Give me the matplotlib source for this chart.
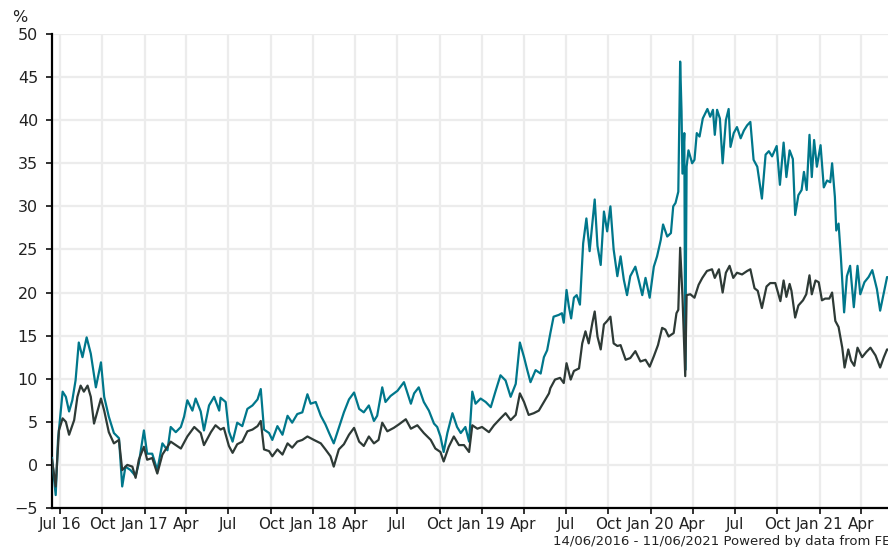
import pandas as pd
import matplotlib
matplotlib.use('Agg')
import matplotlib.pyplot as plt

# fund (teal) - date, % growth
teal_dates = [
    '2016-06-14', '2016-06-22', '2016-06-27', '2016-07-03', '2016-07-07', '2016-07-14', '2016-07-21',
    '2016-07-28', '2016-08-04', '2016-08-11', '2016-08-19', '2016-08-28', '2016-09-06', '2016-09-17',
    '2016-09-28', '2016-10-05', '2016-10-15', '2016-10-26', '2016-11-06', '2016-11-13', '2016-11-20',
    '2016-12-01', '2016-12-12', '2016-12-19', '2016-12-30', '2017-01-06', '2017-01-17', '2017-01-28',
    '2017-02-08', '2017-02-19', '2017-02-26', '2017-03-09', '2017-03-20', '2017-03-27', '2017-04-03',
    '2017-04-14', '2017-04-21', '2017-05-02', '2017-05-09', '2017-05-20', '2017-05-31', '2017-06-11',
    '2017-06-14', '2017-06-25', '2017-07-02', '2017-07-10', '2017-07-20', '2017-07-31', '2017-08-11',
    '2017-08-22', '2017-09-02', '2017-09-09', '2017-09-16', '2017-09-27', '2017-10-04', '2017-10-15',
    '2017-10-26', '2017-11-06', '2017-11-16', '2017-11-27', '2017-12-08', '2017-12-19', '2017-12-26',
    '2018-01-06', '2018-01-17', '2018-01-27', '2018-02-04', '2018-02-14', '2018-02-25', '2018-03-08',
    '2018-03-19', '2018-03-30', '2018-04-10', '2018-04-20', '2018-05-01', '2018-05-12', '2018-05-19',
    '2018-05-30', '2018-06-06', '2018-06-17', '2018-07-02', '2018-07-16', '2018-07-31', '2018-08-07',
    '2018-08-17', '2018-08-28', '2018-09-08', '2018-09-19', '2018-09-26', '2018-10-03', '2018-10-10',
    '2018-10-18', '2018-10-29', '2018-11-08', '2018-11-16', '2018-11-26', '2018-12-04', '2018-12-11',
    '2018-12-18', '2018-12-29', '2019-01-09', '2019-01-20', '2019-01-30', '2019-02-10', '2019-02-21',
    '2019-03-04', '2019-03-15', '2019-03-24', '2019-04-02', '2019-04-09', '2019-04-16', '2019-04-27',
    '2019-05-08', '2019-05-15', '2019-05-22', '2019-05-29', '2019-06-05', '2019-06-16', '2019-06-23',
    '2019-06-27', '2019-07-03', '2019-07-08', '2019-07-13', '2019-07-19', '2019-07-25', '2019-08-01',
    '2019-08-08', '2019-08-15', '2019-08-22', '2019-08-28', '2019-09-02', '2019-09-08', '2019-09-15',
    '2019-09-22', '2019-09-29', '2019-10-06', '2019-10-13', '2019-10-21', '2019-10-28', '2019-11-04',
    '2019-11-11', '2019-11-18', '2019-11-29', '2019-12-06', '2019-12-14', '2019-12-21', '2019-12-30',
    '2020-01-08', '2020-01-15', '2020-01-23', '2020-01-28', '2020-02-06', '2020-02-14', '2020-02-19',
    '2020-02-24', '2020-03-01', '2020-03-05', '2020-03-08', '2020-03-10', '2020-03-14', '2020-03-16',
    '2020-03-19', '2020-03-23', '2020-03-31', '2020-04-05', '2020-04-10', '2020-04-16', '2020-04-23',
    '2020-05-03', '2020-05-09', '2020-05-15', '2020-05-19', '2020-05-24', '2020-05-30', '2020-06-05',
    '2020-06-12', '2020-06-18', '2020-06-22', '2020-06-29', '2020-07-06', '2020-07-14', '2020-07-21',
    '2020-07-28', '2020-08-04', '2020-08-11', '2020-08-19', '2020-08-29', '2020-09-06', '2020-09-13',
    '2020-09-20', '2020-09-30', '2020-10-07', '2020-10-15', '2020-10-21', '2020-10-28', '2020-11-04',
    '2020-11-09', '2020-11-16', '2020-11-23', '2020-11-28', '2020-12-04', '2020-12-10', '2020-12-15',
    '2020-12-20', '2020-12-26', '2021-01-03', '2021-01-10', '2021-01-17', '2021-01-24', '2021-01-28',
    '2021-02-03', '2021-02-06', '2021-02-11', '2021-02-16', '2021-02-23', '2021-03-01', '2021-03-08',
    '2021-03-16', '2021-03-24', '2021-03-30', '2021-04-08', '2021-04-17', '2021-04-25', '2021-05-05',
    '2021-05-12', '2021-05-20', '2021-05-27', '2021-06-11',
]
teal_vals = [
    0.8, -3.5, 2.9, 6.3, 8.5, 7.9, 6.2,
    7.5, 9.8, 14.2, 12.5, 14.8, 12.9, 9.0,
    11.9, 7.9, 5.6, 3.7, 3.1, -2.5, -0.2,
    -0.6, -1.3, 0.2, 4.0, 1.3, 1.3, -0.6,
    2.5, 1.7, 4.4, 3.8, 4.4, 5.6, 7.5,
    6.3, 7.7, 6.2, 4.0, 6.9, 7.9, 6.3,
    7.8, 7.3, 3.9, 2.7, 4.9, 4.5, 6.5,
    6.9, 7.6, 8.8, 4.1, 3.7, 2.9, 4.5,
    3.5, 5.7, 4.9, 5.9, 6.1, 8.2, 7.1,
    7.3, 5.7, 4.7, 3.7, 2.5, 4.3, 6.1,
    7.6, 8.4, 6.5, 6.1, 6.9, 5.1, 5.7,
    9.0, 7.3, 8.0, 8.6, 9.6, 7.1, 8.3,
    9.0, 7.3, 6.3, 4.8, 4.4, 3.3, 1.5,
    3.7, 6.0, 4.4, 3.7, 4.4, 2.7, 8.5,
    7.1, 7.7, 7.3, 6.7, 8.5, 10.4, 9.8,
    7.9, 9.4, 14.2, 12.5, 11.0, 9.6, 11.0,
    10.6, 12.5, 13.3, 15.3, 17.2, 17.4, 17.6,
    16.5, 20.3, 18.4, 17.0, 19.4, 19.7, 18.6,
    25.7, 28.6, 24.8, 28.1, 30.8, 25.4, 23.2,
    29.4, 27.1, 30.0, 25.0, 21.9, 24.2, 21.5,
    19.7, 21.9, 23.0, 21.5, 19.7, 21.7, 19.4,
    23.0, 24.2, 26.1, 27.9, 26.5, 26.9, 30.0,
    30.4, 31.7, 46.8, 41.0, 33.8, 38.5, 11.0,
    34.6, 36.5, 35.0, 35.4, 38.5, 38.1, 40.2,
    41.3, 40.4, 41.2, 38.3, 41.2, 40.2, 35.0,
    40.0, 41.3, 36.9, 38.5, 39.2, 37.9, 38.8,
    39.4, 39.8, 35.4, 34.6, 30.9, 36.0, 36.4,
    35.8, 37.0, 32.5, 37.4, 33.4, 36.5, 35.5,
    29.0, 31.3, 31.9, 34.0, 31.9, 38.3, 33.4,
    37.7, 34.6, 37.1, 32.2, 33.0, 32.8, 35.0,
    31.1, 27.2, 28.0, 24.1, 17.7, 21.9, 23.1,
    18.3, 23.1, 19.8, 21.2, 21.8, 22.6, 20.4,
    17.9, 20.0, 21.8, 21.5,
]

# sector average (dark)
dark_dates = [
    '2016-06-14', '2016-06-22', '2016-06-29', '2016-07-07', '2016-07-14', '2016-07-21', '2016-08-01',
    '2016-08-08', '2016-08-15', '2016-08-22', '2016-08-30', '2016-09-06', '2016-09-13', '2016-09-28',
    '2016-10-05', '2016-10-15', '2016-10-26', '2016-11-06', '2016-11-13', '2016-11-24', '2016-12-05',
    '2016-12-12', '2016-12-19', '2016-12-30', '2017-01-06', '2017-01-17', '2017-01-28', '2017-02-08',
    '2017-02-26', '2017-03-09', '2017-03-20', '2017-04-03', '2017-04-18', '2017-05-02', '2017-05-09',
    '2017-05-24', '2017-06-03', '2017-06-14', '2017-06-21', '2017-07-02', '2017-07-10', '2017-07-20',
    '2017-07-31', '2017-08-11', '2017-08-22', '2017-09-02', '2017-09-09', '2017-09-16', '2017-09-27',
    '2017-10-04', '2017-10-15', '2017-10-26', '2017-11-06', '2017-11-16', '2017-11-27', '2017-12-08',
    '2017-12-19', '2018-01-02', '2018-01-17', '2018-01-27', '2018-02-07', '2018-02-14', '2018-02-25',
    '2018-03-08', '2018-03-19', '2018-03-30', '2018-04-10', '2018-04-20', '2018-05-01', '2018-05-12',
    '2018-05-22', '2018-05-30', '2018-06-10', '2018-06-24', '2018-07-05', '2018-07-20', '2018-07-31',
    '2018-08-14', '2018-08-28', '2018-09-12', '2018-09-22', '2018-10-03', '2018-10-10', '2018-10-21',
    '2018-11-01', '2018-11-12', '2018-11-23', '2018-12-04', '2018-12-11', '2018-12-22', '2019-01-01',
    '2019-01-16', '2019-01-27', '2019-02-10', '2019-02-21', '2019-03-04', '2019-03-15', '2019-03-24',
    '2019-04-02', '2019-04-12', '2019-04-23', '2019-05-04', '2019-05-15', '2019-05-26', '2019-05-29',
    '2019-06-08', '2019-06-19', '2019-06-27', '2019-07-03', '2019-07-12', '2019-07-19', '2019-07-30',
    '2019-08-06', '2019-08-13', '2019-08-20', '2019-08-28', '2019-09-02', '2019-09-08', '2019-09-15',
    '2019-09-22', '2019-09-29', '2019-10-06', '2019-10-13', '2019-10-21', '2019-10-28', '2019-11-08',
    '2019-11-18', '2019-11-29', '2019-12-10', '2019-12-21', '2019-12-30', '2020-01-08', '2020-01-17',
    '2020-01-26', '2020-02-02', '2020-02-09', '2020-02-20', '2020-02-26', '2020-03-01', '2020-03-05',
    '2020-03-10', '2020-03-16', '2020-03-19', '2020-03-27', '2020-04-05', '2020-04-14', '2020-04-22',
    '2020-05-02', '2020-05-13', '2020-05-19', '2020-05-28', '2020-06-05', '2020-06-12', '2020-06-20',
    '2020-06-28', '2020-07-06', '2020-07-17', '2020-07-28', '2020-08-04', '2020-08-13', '2020-08-20',
    '2020-08-29', '2020-09-08', '2020-09-16', '2020-09-27', '2020-10-08', '2020-10-15', '2020-10-21',
    '2020-10-28', '2020-11-01', '2020-11-09', '2020-11-16', '2020-11-26', '2020-12-03', '2020-12-10',
    '2020-12-15', '2020-12-23', '2020-12-30', '2021-01-06', '2021-01-13', '2021-01-22', '2021-01-28',
    '2021-02-04', '2021-02-11', '2021-02-19', '2021-02-24', '2021-03-04', '2021-03-10', '2021-03-17',
    '2021-03-24', '2021-04-03', '2021-04-12', '2021-04-21', '2021-05-02', '2021-05-12', '2021-05-20',
    '2021-05-27', '2021-06-11',
]
dark_vals = [
    0.6, -2.5, 4.0, 5.4, 5.0, 3.5, 5.2,
    7.9, 9.2, 8.5, 9.2, 7.9, 4.8, 7.7,
    6.3, 3.8, 2.5, 2.9, -0.6, 0.0, -0.2,
    -1.5, 0.6, 2.1, 0.6, 0.8, -1.0, 1.2,
    2.7, 2.3, 1.9, 3.3, 4.4, 3.7, 2.3,
    3.8, 4.6, 4.1, 4.3, 2.2, 1.4, 2.4,
    2.7, 3.9, 4.1, 4.5, 5.1, 1.8, 1.6,
    1.0, 1.8, 1.2, 2.5, 2.0, 2.7, 2.9,
    3.3, 2.9, 2.5, 1.8, 1.0, -0.2, 1.8,
    2.4, 3.5, 4.3, 2.7, 2.2, 3.3, 2.5,
    2.9, 4.9, 3.9, 4.3, 4.7, 5.3, 4.2,
    4.6, 3.7, 2.9, 1.9, 1.5, 0.4, 2.1,
    3.3, 2.3, 2.3, 1.5, 4.6, 4.2, 4.4,
    3.8, 4.6, 5.4, 6.0, 5.2, 5.8, 8.3,
    7.3, 5.8, 6.0, 6.3, 7.3, 8.3, 8.9,
    9.9, 10.1, 9.5, 11.8, 9.9, 10.9, 11.2,
    14.1, 15.5, 14.1, 16.5, 17.8, 14.9, 13.4,
    16.3, 16.7, 17.2, 14.1, 13.8, 13.9, 12.2,
    12.4, 13.2, 12.0, 12.2, 11.4, 12.6, 13.9,
    15.9, 15.7, 14.9, 15.3, 17.6, 18.0, 25.2,
    19.6, 10.3, 19.7, 19.8, 19.4, 20.9, 21.7,
    22.5, 22.7, 21.7, 22.7, 20.0, 22.3, 23.1,
    21.7, 22.3, 22.1, 22.5, 22.7, 20.5, 20.2,
    18.2, 20.7, 21.1, 21.1, 19.0, 21.4, 19.5,
    21.0, 20.2, 17.1, 18.5, 19.1, 19.8, 22.0,
    19.8, 21.4, 21.2, 19.1, 19.3, 19.3, 20.0,
    16.7, 16.0, 13.6, 11.3, 13.4, 12.1, 11.5,
    13.6, 12.5, 13.1, 13.6, 12.7, 11.3, 12.5,
    13.4, 13.2,
]

tick_dates = pd.date_range('2016-07-01', '2021-04-01', freq='QS')
tick_labels = []
for i, d in enumerate(tick_dates):
    name = d.strftime('%b')
    if i == 0 or d.month == 1:
        name += d.strftime(' %y')
    tick_labels.append(name)

start = pd.Timestamp('2016-06-14')
end = pd.Timestamp('2021-06-11')

plt.rcParams['font.family'] = 'DejaVu Sans'
fig = plt.figure(figsize=(8.88, 5.47), dpi=100)
ax = fig.add_axes([52 / 888, 1 - 508 / 547, 842 / 888, 474 / 547])

ax.plot(pd.to_datetime(teal_dates), teal_vals, color='#00778b', lw=1.6, zorder=3)
ax.plot(pd.to_datetime(dark_dates), dark_vals, color='#2e3a36', lw=1.6, zorder=4)

ax.set_xlim(start, end)
ax.set_ylim(-5, 50)
ax.set_yticks(range(-5, 51, 5))
ax.set_xticks(tick_dates)
ax.set_xticklabels(tick_labels)

ax.grid(True, color='#ececec', lw=1.6)
ax.set_axisbelow(True)
for s in ['top', 'right']:
    ax.spines[s].set_visible(False)
for s in ['left', 'bottom']:
    ax.spines[s].set_color('black')
    ax.spines[s].set_linewidth(1.6)
ax.tick_params(axis='both', colors='#222222', width=1.3, length=4)
ax.tick_params(axis='y', pad=6, labelsize=11.5)
ax.tick_params(axis='x', pad=2.5, labelsize=11)

fig.text(12 / 888, 1 - 18 / 547, '%', fontsize=11.5, color='#222222', ha='left', va='center')
fig.text(553 / 888, 1 - 541 / 547, '14/06/2016 - 11/06/2021 Powered by data from FE',
         fontsize=9.5, color='#222222', ha='left', va='center')

fig.savefig('out.png', dpi=100)
